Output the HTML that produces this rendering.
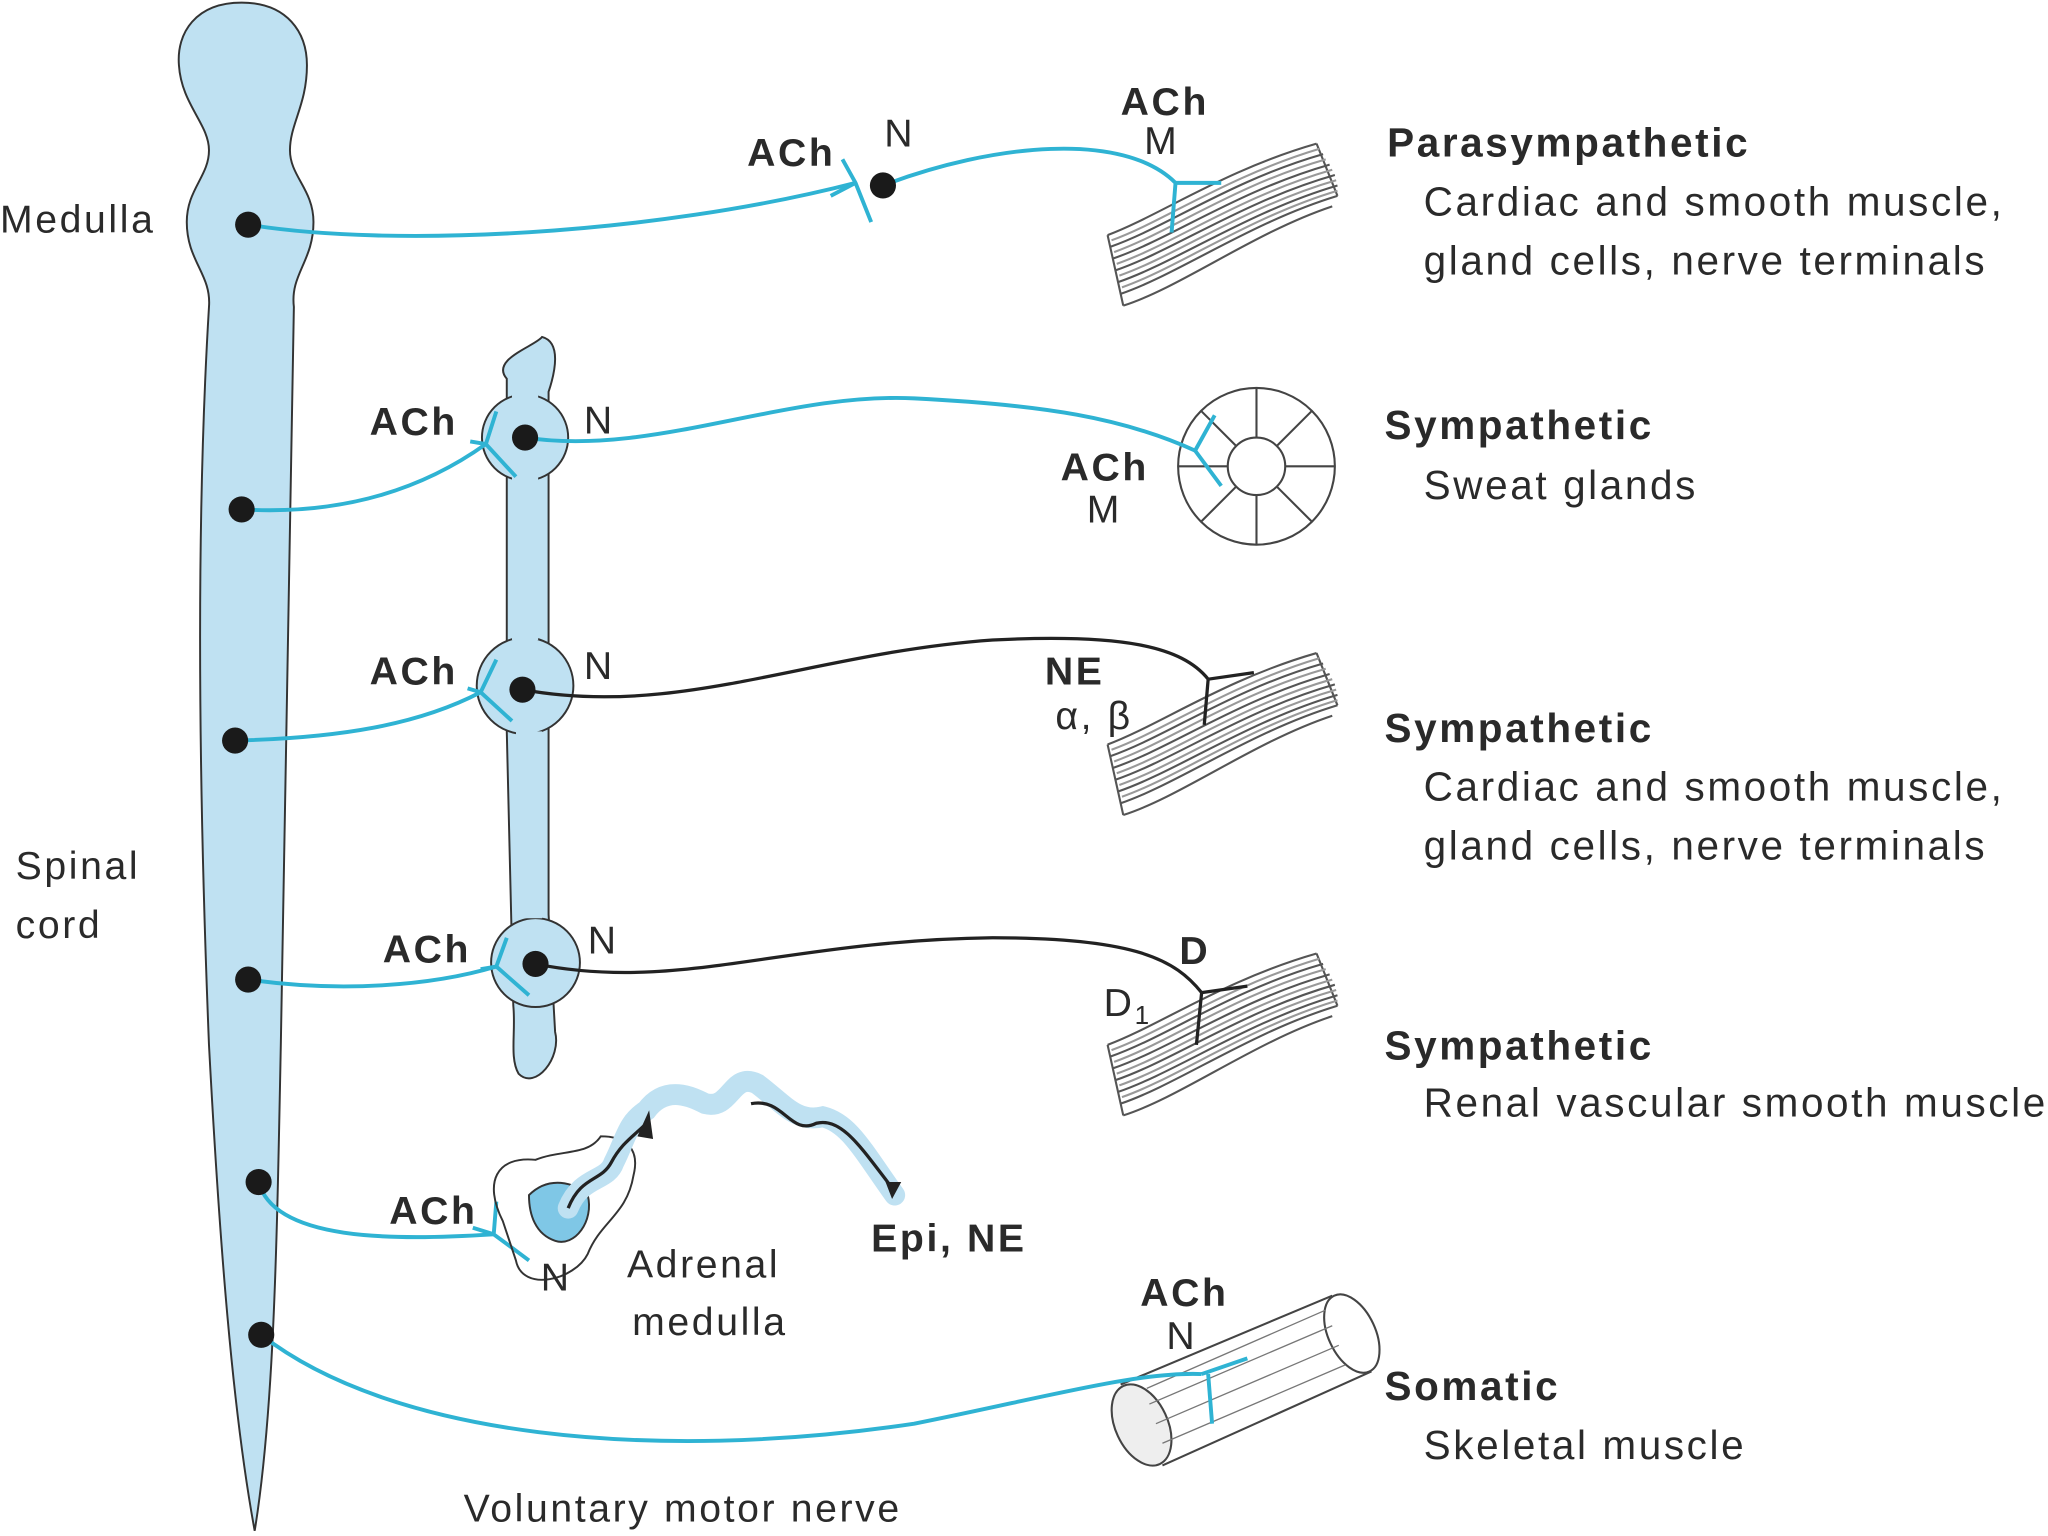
<!DOCTYPE html>
<html><head><meta charset="utf-8"><style>
html,body{margin:0;padding:0;background:#fff;}
svg{display:block;}
text{font-family:"Liberation Sans",Arial,sans-serif;fill:#2a2a2a;letter-spacing:2px;}
</style></head><body>
<svg width="2048" height="1536" viewBox="0 0 1568 1176" xmlns="http://www.w3.org/2000/svg">
<defs>
<g id="musc" fill="none" stroke="#555" stroke-width="1.6">
  <path d="M0,0 C40,-15 90,-50 160,-70" />
  <path d="M2,9 C45,-6 95,-42 165,-62" />
  <path d="M4,18 C48,3 100,-34 170,-54" />
  <path d="M6,27 C50,12 104,-26 174,-46" />
  <path d="M8,36 C52,21 108,-18 176,-38" />
  <path d="M10,45 C54,30 110,-10 176,-30" />
  <path d="M12,54 C56,40 112,-2 172,-22" />
  <path d="M0,0 L12,54 M160,-70 L176,-30" />
  <path d="M3,4 C42,-10 92,-45 162,-66" stroke="#999"/>
  <path d="M5,13 C47,-2 97,-38 167,-58" stroke="#999"/>
  <path d="M7,22 C50,7 102,-30 172,-50" stroke="#999"/>
  <path d="M9,31 C52,16 106,-22 175,-42" stroke="#999"/>
  <path d="M11,40 C54,25 109,-14 176,-34" stroke="#999"/>
</g>
</defs>

<path d="M185,2 C150,2 135,25 137,50 C139,80 160,95 160,115 C160,135 143,145 143,170 C143,200 162,210 160,235 C150,400 152,600 160,800 C168,950 178,1080 195,1172 C210,1080 212,950 215,800 C220,600 222,400 225,235 C222,210 240,200 240,170 C240,145 222,135 222,115 C222,95 235,80 235,50 C235,25 220,2 185,2 Z" fill="#bfe1f2" stroke="#333" stroke-width="1.5"/>

<path d="M388,290 C375,275 410,265 415,258 C430,262 425,285 420,300 L420,480 L420,700 L425,790 C430,810 410,835 397,822 C390,810 395,790 393,770 L388,560 L388,320 Z" fill="#bfe1f2" stroke="#333" stroke-width="1.5"/>
<circle cx="402" cy="335" r="33" fill="#bfe1f2" stroke="#333" stroke-width="1.5"/>
<circle cx="402" cy="525" r="37" fill="#bfe1f2" stroke="#333" stroke-width="1.5"/>
<circle cx="410" cy="737" r="34" fill="#bfe1f2" stroke="#333" stroke-width="1.5"/>
<path d="M392,300 L412,300 L412,490 L392,490 Z M395,560 L415,560 L415,703 L398,703 Z" fill="#bfe1f2" stroke="none"/>

<use href="#musc" transform="translate(848,180)"/>
<use href="#musc" transform="translate(848,570)"/>
<use href="#musc" transform="translate(848,800)"/>

<g fill="none" stroke="#444" stroke-width="1.6">
<circle cx="962" cy="357" r="60" fill="#fff"/>
<circle cx="962" cy="357" r="22"/>
<path d="M962,297 L962,335 M962,379 L962,417 M902,357 L940,357 M984,357 L1022,357 M920,315 L946,341 M978,373 L1004,399 M1004,315 L978,341 M946,373 L920,399"/>
</g>

<g fill="none" stroke="#444" stroke-width="1.6">
<path d="M858,1060 L1020,992 M890,1122 L1050,1050"/>
<ellipse cx="1035" cy="1021" rx="18" ry="32" transform="rotate(-25 1035 1021)" fill="#fff"/>
<ellipse cx="874" cy="1091" rx="20" ry="33" transform="rotate(-25 874 1091)" fill="#eee"/>
<path d="M880,1075 L1020,1015 M885,1090 L1025,1030 M890,1105 L1030,1045 M878,1063 L1015,1003" stroke="#777" stroke-width="1"/>
</g>

<g fill="none" stroke="#2fb3d3" stroke-width="3">
<path d="M190,172 C300,190 500,180 655,140"/>
<path d="M676,142 C760,110 860,100 900,140"/>
<path d="M185,390 C270,395 330,370 372,340"/>
<path d="M402,335 C500,350 600,300 700,305 C800,310 860,320 915,345"/>
<path d="M180,567 C260,565 320,555 368,530"/>
<path d="M190,750 C260,760 330,755 380,740"/>
<path d="M198,905 C210,950 300,950 378,945"/>
<path d="M200,1022 C300,1100 500,1120 700,1090 C800,1070 870,1050 920,1052"/>
<path d="M645,122 L655,140 L667,170 M636,150 L655,140"/>
<path d="M380,315 L372,340 L395,365 M360,338 L372,340"/>
<path d="M380,505 L368,530 L392,552 M358,527 L368,530"/>
<path d="M388,718 L380,740 L405,762 M368,742 L380,740"/>
<path d="M380,920 L378,945 L405,965 M362,940 L378,945"/>
<path d="M900,140 L935,140 M900,140 L897,178"/>
<path d="M915,345 L930,318 M915,345 L935,372"/>
<path d="M920,1052 L955,1040 M925,1052 L928,1090"/>
</g>
<g fill="none" stroke="#222" stroke-width="2.5">
<path d="M400,528 C520,550 620,500 760,490 C860,485 905,495 925,520"/>
<path d="M410,738 C520,760 600,720 760,718 C870,718 900,735 920,760"/>
<path d="M925,520 L960,515 M925,520 L922,555"/>
<path d="M920,760 L955,755 M920,760 L916,800"/>
</g>

<path d="M385,935 C370,905 380,885 410,888 C430,880 450,885 460,870 C480,870 490,880 485,900 C480,930 460,935 450,960 C440,980 400,990 395,965 Z" fill="none" stroke="#333" stroke-width="1.5"/>
<path d="M405,915 C420,900 440,905 450,915 C455,935 440,955 425,950 C410,945 405,930 405,915 Z" fill="#7fc7e6" stroke="#333" stroke-width="1.5"/>
<path d="M435,925 C445,900 465,905 470,890 C480,870 480,860 495,850 C510,830 530,840 540,845 C560,850 560,820 580,830 C600,845 610,860 630,855 C650,860 660,880 685,915" fill="none" stroke="#bfe1f2" stroke-width="16" stroke-linecap="round"/>
<path d="M435,925 C445,900 460,905 468,890 C476,875 485,870 495,860 M575,845 C600,840 605,870 625,860 C645,855 660,880 685,912" fill="none" stroke="#222" stroke-width="2.5"/>
<path d="M488,870 L497,850 L500,872 Z M683,918 L690,905 L678,905 Z" fill="#222"/>

<g fill="#1a1a1a">
<circle cx="676" cy="142" r="10"/>
<circle cx="190" cy="172" r="10"/>
<circle cx="185" cy="390" r="10"/>
<circle cx="402" cy="335" r="10"/>
<circle cx="180" cy="567" r="10"/>
<circle cx="400" cy="528" r="10"/>
<circle cx="190" cy="750" r="10"/>
<circle cx="410" cy="738" r="10"/>
<circle cx="198" cy="905" r="10"/>
<circle cx="200" cy="1022" r="10"/>
</g>

<g font-size="30">
<text x="0" y="178">Medulla</text>
<text x="12" y="673">Spinal</text>
<text x="12" y="718">cord</text>
<text x="355" y="1165">Voluntary motor nerve</text>
<text x="480" y="978">Adrenal</text>
<text x="484" y="1022">medulla</text>
<text x="677" y="112">N</text>
<text x="876" y="118">M</text>
<text x="447" y="332">N</text>
<text x="832" y="400">M</text>
<text x="447" y="520">N</text>
<text x="808" y="558">α, β</text>
<text x="450" y="730">N</text>
<text x="845" y="778">D<tspan font-size="20" dy="6">1</tspan></text>
<text x="414" y="988">N</text>
<text x="893" y="1033">N</text>
</g>
<g font-size="30" font-weight="bold">
<text x="572" y="127">ACh</text>
<text x="858" y="88">ACh</text>
<text x="283" y="333">ACh</text>
<text x="812" y="368">ACh</text>
<text x="283" y="524">ACh</text>
<text x="800" y="524">NE</text>
<text x="293" y="737">ACh</text>
<text x="903" y="738">D</text>
<text x="298" y="937">ACh</text>
<text x="667" y="958">Epi, NE</text>
<text x="873" y="1000">ACh</text>
</g>
<g font-size="31" font-weight="bold">
<text x="1062" y="120">Parasympathetic</text>
<text x="1060" y="336">Sympathetic</text>
<text x="1060" y="568">Sympathetic</text>
<text x="1060" y="811">Sympathetic</text>
<text x="1060" y="1072">Somatic</text>
</g>
<g font-size="31">
<text x="1090" y="165">Cardiac and smooth muscle,</text>
<text x="1090" y="210">gland cells, nerve terminals</text>
<text x="1090" y="382">Sweat glands</text>
<text x="1090" y="613">Cardiac and smooth muscle,</text>
<text x="1090" y="658">gland cells, nerve terminals</text>
<text x="1090" y="855">Renal vascular smooth muscle</text>
<text x="1090" y="1117">Skeletal muscle</text>
</g>
</svg>
</body></html>
